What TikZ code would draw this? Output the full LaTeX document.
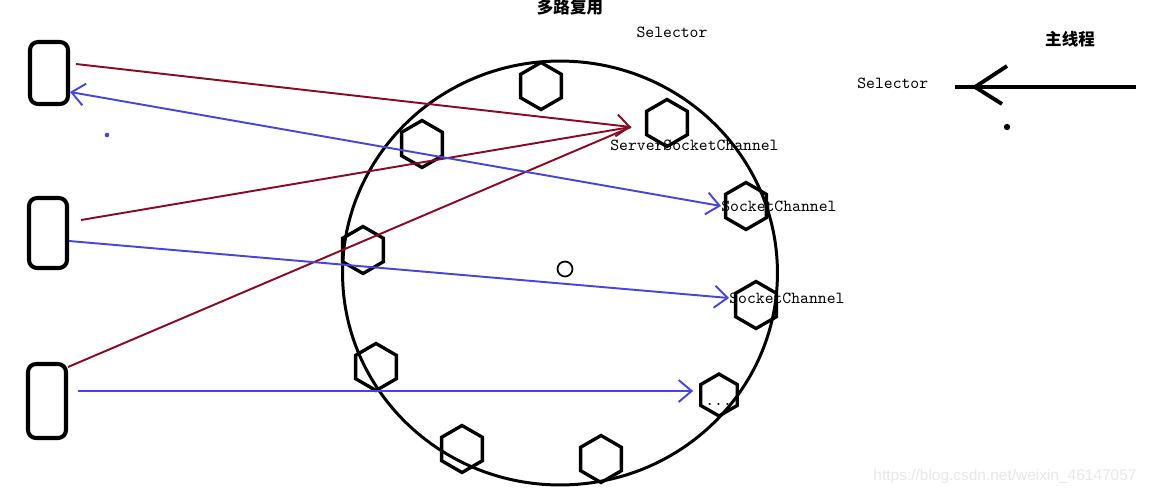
\documentclass[tikz,border=0pt]{standalone}
\usepackage{fontspec}
\setsansfont{Liberation Sans}
\newfontfamily\cjk{Noto Sans CJK SC}
\usetikzlibrary{shapes.geometric,arrows.meta}
\definecolor{linkred}{RGB}{139,10,35}
\definecolor{linkblue}{RGB}{70,70,220}

\begin{document}
\begin{tikzpicture}[x=0.02cm, y=-0.02cm,
        >={Straight Barb[length=2.6mm,width=4.4mm]},
        client/.style={draw, rectangle, rounded corners=0.16cm, line width=2.3pt, minimum width=0.76cm},
        channel/.style={draw, regular polygon, regular polygon sides=6, shape border rotate=30, line width=1.9pt, minimum size=0.94cm, inner sep=0pt},
        txt/.style={font=\ttfamily\fontsize{9.6}{11}\selectfont, inner sep=0pt, anchor=west},
        cjktxt/.style={font=\cjk\bfseries\fontsize{9.4}{11}\selectfont, inner sep=0pt},
        toaccept/.style={draw=linkred, line width=1.1pt},
        toread/.style={->, draw=linkblue, line width=1.1pt}]
    \useasboundingbox (0,0) rectangle (1150,494);

    % clients
    \node[client, minimum height=1.24cm] (cli1) at (49,73) {};
    \node[client, minimum height=1.4cm] (cli2) at (48,233) {};
    \node[client, minimum height=1.48cm] (cli3) at (47,401) {};

    % selector with its channels
    \node[draw, ellipse, line width=1.7pt, minimum width=8.7cm, minimum height=8.48cm] (sel) at (560,273) {};
    \node[draw, circle, line width=1pt, minimum size=0.3cm, inner sep=0pt] (hub) at (565,269) {};
    \node[channel] (ch1) at (541,86) {};
    \node[channel] (ch2) at (667,123) {};
    \node[channel] (ch3) at (422,144) {};
    \node[channel] (ch4) at (746,206) {};
    \node[channel] (ch5) at (363,250) {};
    \node[channel] (ch6) at (756,305) {};
    \node[channel] (ch7) at (376,367) {};
    \node[channel, minimum size=0.84cm] (ch8) at (719,395) {};
    \node[channel] (ch9) at (462,449) {};
    \node[channel] (ch10) at (601,459) {};

    \node[cjktxt] (mux) at (570,7) {多路复用};
    \node[txt, anchor=center] (title) at (672,32) {Selector};
    \node[txt] (srvtxt) at (610,145) {ServerSocketChannel};
    \node[txt] (sock1) at (721,206) {SocketChannel};
    \node[txt] (sock2) at (729,298) {SocketChannel};
    \node[txt] (more) at (705,404) {...};

    % main thread
    \node[cjktxt] (mainth) at (1070,39) {主线程};
    \node[txt] (msel) at (857,83) {Selector};
    \coordinate (tail) at (1136,87);
    \coordinate (head) at (955,87);
    \coordinate (tip) at (975,87);
    \draw[line width=2.2pt] (tail) -- (head);
    \draw[line width=2.2pt] (tip) -- ++(32,-21) (tip) -- ++(27,17);

    % connections
    \coordinate (acc) at (631,127);
    \draw[toaccept, ->] ([xshift=0.12cm, yshift=0.18cm]cli1.east) -- (acc);
    \draw[toaccept] ([xshift=0.24cm, yshift=0.26cm]cli2.east) -- (acc);
    \draw[toaccept] ([yshift=0.68cm]cli3.east) -- (acc);
    \draw[toread, <->] ([yshift=-0.38cm]cli1.east) -- (sock1.west);
    \draw[toread] ([yshift=-0.16cm]cli2.east) -- (sock2.west);
    \draw[toread] ([xshift=0.2cm, yshift=0.2cm]cli3.east) -- ([xshift=-0.12cm, yshift=0.08cm]ch8.west);

    \fill[linkblue] (107,135) circle (1.3pt);
    \fill (1007,127) circle (1.8pt);

    \node[font=\sffamily\fontsize{8.8}{10}\selectfont, text=black!9, inner sep=0pt] (mark) at (1005,476) {https://blog.csdn.net/weixin\_46147057};
\end{tikzpicture}
\end{document}
